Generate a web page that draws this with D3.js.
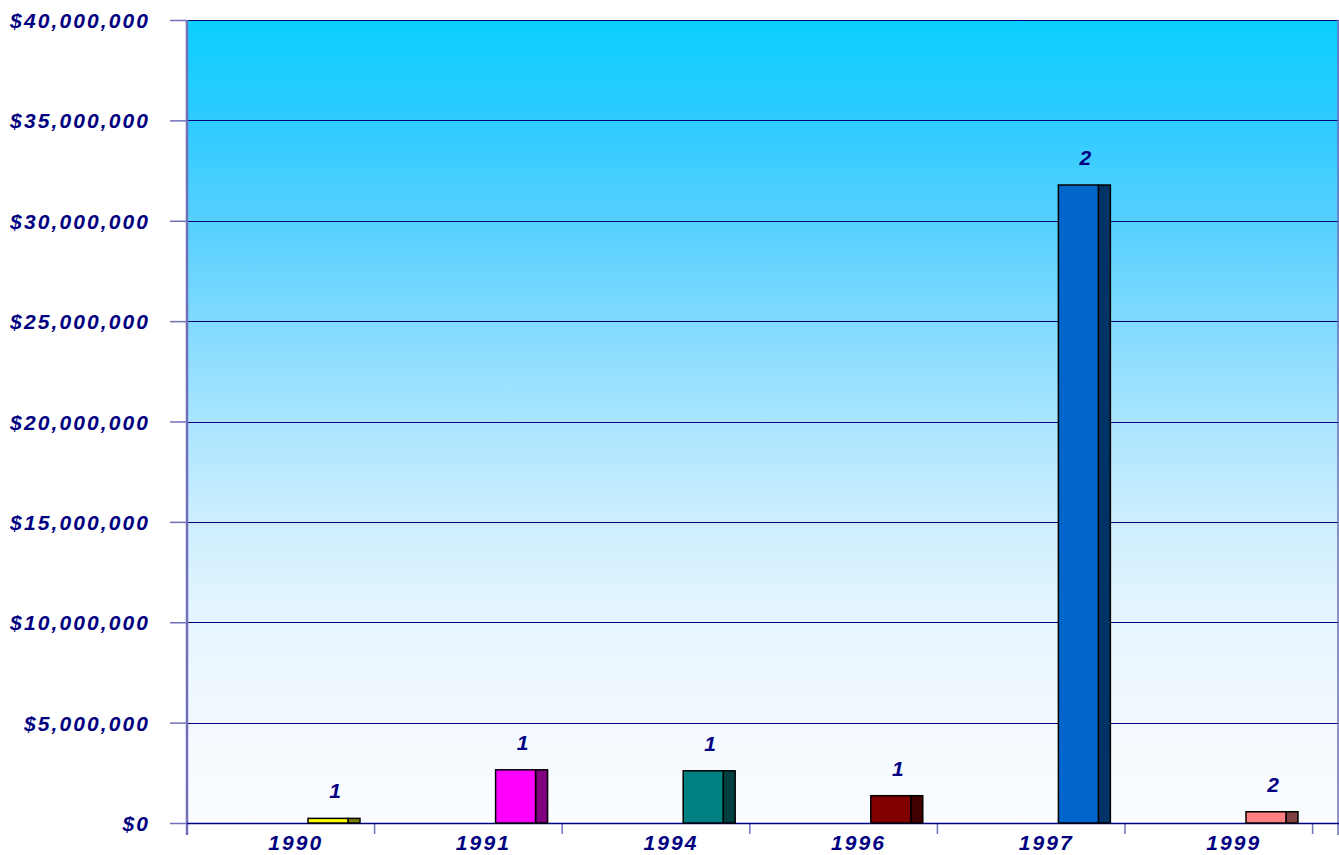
<!DOCTYPE html>
<html>
<head>
<meta charset="utf-8">
<script src="https://cdn.jsdelivr.net/npm/d3@7"></script>
<style>
  body { margin: 0; background: #ffffff; }
  text { font-family: "Liberation Sans", Arial, sans-serif; font-weight: bold; font-style: italic; fill: #000080; }
</style>
</head>
<body>
<svg id="chart" width="1339" height="855"></svg>
<script>
// data
const years = ['1990', '1991', '1994', '1996', '1997', '1999'];
const amounts = [230000, 2650000, 2600000, 1360000, 31780000, 560000];
const counts = [1, 1, 1, 1, 2, 2];
const yTicks = [0, 5e6, 10e6, 15e6, 20e6, 25e6, 30e6, 35e6, 40e6];

const frontColours = ['#ffff00', '#ff00ff', '#008080', '#800000', '#0066cc', '#ff8080'];
const sideColours = ['#808000', '#800080', '#004040', '#400000', '#003366', '#804040'];

const plot = { left: 187, right: 1339, top: 20, bottom: 823 };
const bandWidth = 187.6;

const svg = d3.select('#chart');

const x = d3.scaleBand()
    .domain(years)
    .range([plot.left, plot.left + bandWidth * years.length])
    .padding(0);

const y = d3.scaleLinear()
    .domain([0, 40e6])
    .range([plot.bottom, plot.top]);

// background gradient
const defs = svg.append('defs');
const grad = defs.append('linearGradient')
    .attr('id', 'bg')
    .attr('x1', 0).attr('y1', 0).attr('x2', 0).attr('y2', 1);
[
    [0, '#0acfff'],
    [0.125, '#2ecbff'],
    [0.25, '#55d0ff'],
    [0.375, '#80daff'],
    [0.5, '#a9e5ff'],
    [0.625, '#cdeeff'],
    [0.75, '#e6f5ff'],
    [0.875, '#f3f9ff'],
    [1, '#fbfdff'],
].forEach(([o, c]) => grad.append('stop').attr('offset', o).attr('stop-color', c));

svg.append('rect')
    .attr('x', plot.left)
    .attr('y', plot.top)
    .attr('width', plot.right - plot.left)
    .attr('height', plot.bottom - plot.top)
    .attr('fill', 'url(#bg)');

// gridlines
svg.append('g')
    .selectAll('line')
    .data(yTicks)
    .join('line')
    .attr('x1', plot.left)
    .attr('x2', plot.right)
    .attr('y1', d => Math.round(y(d)) + 0.5)
    .attr('y2', d => Math.round(y(d)) + 0.5)
    .attr('stroke', '#000080')
    .attr('stroke-width', 1);

// y axis
const fmt = d => '$' + d3.format(',')(d);
const yAxis = svg.append('g')
    .attr('transform', `translate(${plot.left},0)`)
    .call(d3.axisLeft(y).tickValues(yTicks).tickSize(17).tickPadding(0).tickFormat(fmt));
yAxis.select('.domain').remove();
yAxis.selectAll('.tick line').attr('stroke', '#7070b8').attr('stroke-width', 1.5);
yAxis.selectAll('.tick text')
    .attr('x', -37)
    .attr('dy', '0.36em')
    .style('font-size', '21px')
    .style('letter-spacing', '2.1px')
    .attr('fill', '#000080');

svg.append('line')
    .attr('x1', plot.left).attr('x2', plot.left)
    .attr('y1', plot.top).attr('y2', plot.bottom + 12)
    .attr('stroke', '#7070b8')
    .attr('stroke-width', 2.5);

svg.append('line')
    .attr('x1', plot.right - 1).attr('x2', plot.right - 1)
    .attr('y1', plot.top).attr('y2', plot.bottom + 12)
    .attr('stroke', '#7070b8')
    .attr('stroke-width', 1.5);

// x axis ticks at band edges
const edges = years.map(d => x(d) + x.bandwidth());
svg.append('g')
    .selectAll('line')
    .data(edges)
    .join('line')
    .attr('x1', d => d).attr('x2', d => d)
    .attr('y1', plot.bottom)
    .attr('y2', plot.bottom + 11)
    .attr('stroke', '#7070b8')
    .attr('stroke-width', 1.5);

svg.append('line')
    .attr('x1', plot.left).attr('x2', plot.right)
    .attr('y1', plot.bottom + 0.5).attr('y2', plot.bottom + 0.5)
    .attr('stroke', '#000080')
    .attr('stroke-width', 1.5);

svg.append('g')
    .selectAll('text')
    .data(years)
    .join('text')
    .attr('x', d => x(d) + x.bandwidth() / 2 + 15)
    .attr('y', plot.bottom + 27)
    .attr('text-anchor', 'middle')
    .style('font-size', '21px')
    .style('letter-spacing', '2.1px')
    .text(d => d);

// bars: front face + darker side face
const frontW = x.bandwidth() * 0.213;
const sideW = x.bandwidth() * 0.064;
const frontX = d => x(d) + x.bandwidth() * 0.645;

const bars = svg.append('g')
    .selectAll('g')
    .data(years.map((d, i) => ({ year: d, amount: amounts[i], count: counts[i], i })))
    .join('g');

bars.append('rect')
    .attr('x', d => frontX(d.year) + frontW)
    .attr('y', d => y(d.amount))
    .attr('width', sideW)
    .attr('height', d => y(0) - y(d.amount))
    .attr('fill', d => sideColours[d.i])
    .attr('stroke', '#000')
    .attr('stroke-width', 1.5);

bars.append('rect')
    .attr('x', d => frontX(d.year))
    .attr('y', d => y(d.amount))
    .attr('width', frontW)
    .attr('height', d => y(0) - y(d.amount))
    .attr('fill', d => frontColours[d.i])
    .attr('stroke', '#000')
    .attr('stroke-width', 1.5);

bars.append('text')
    .attr('x', d => frontX(d.year) + (frontW + sideW) / 2 + 1)
    .attr('y', d => y(d.amount) - 20)
    .attr('text-anchor', 'middle')
    .style('font-size', '21px')
    .text(d => d.count);
</script>
</body>
</html>
